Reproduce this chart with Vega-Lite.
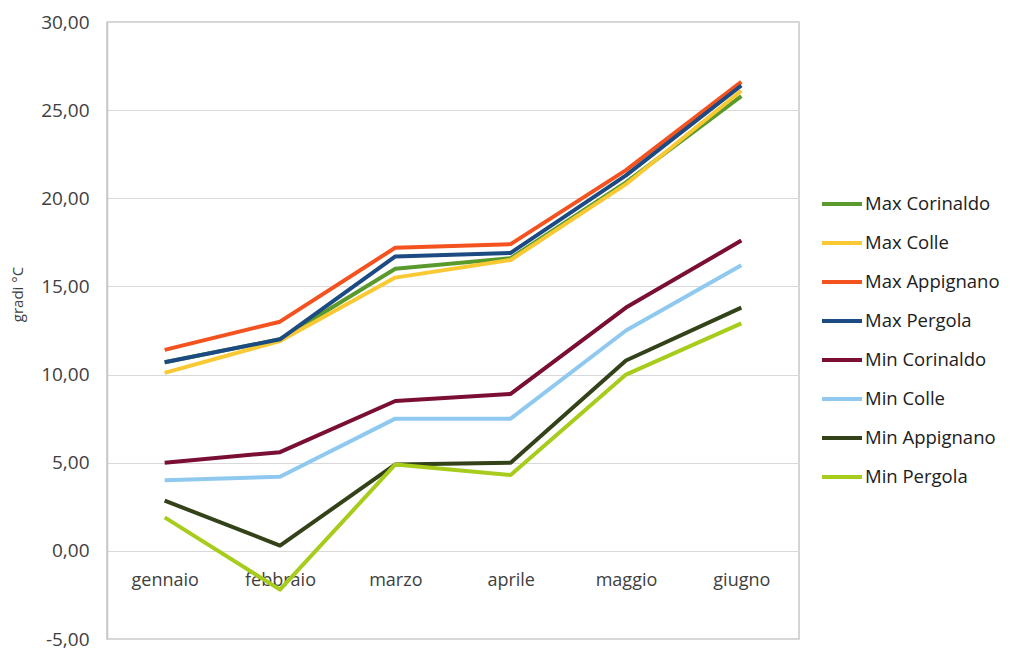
{
  "$schema": "https://vega.github.io/schema/vega-lite/v6.json",
  "width": 692,
  "height": 617,
  "autosize": {"type": "none"},
  "padding": {"left": 107, "top": 22, "right": 211, "bottom": 10},
  "background": "#ffffff",
  "config": {
    "font": "Open Sans",
    "view": {"stroke": "#c8c8c8", "strokeWidth": 1.5}
  },
  "data": {
    "values": [
      {"mese": "gennaio", "serie": "Max Corinaldo", "gradi": 10.7},
      {"mese": "febbraio", "serie": "Max Corinaldo", "gradi": 12.0},
      {"mese": "marzo", "serie": "Max Corinaldo", "gradi": 16.0},
      {"mese": "aprile", "serie": "Max Corinaldo", "gradi": 16.6},
      {"mese": "maggio", "serie": "Max Corinaldo", "gradi": 20.9},
      {"mese": "giugno", "serie": "Max Corinaldo", "gradi": 25.8},
      {"mese": "gennaio", "serie": "Max Colle", "gradi": 10.1},
      {"mese": "febbraio", "serie": "Max Colle", "gradi": 11.9},
      {"mese": "marzo", "serie": "Max Colle", "gradi": 15.5},
      {"mese": "aprile", "serie": "Max Colle", "gradi": 16.5},
      {"mese": "maggio", "serie": "Max Colle", "gradi": 20.8},
      {"mese": "giugno", "serie": "Max Colle", "gradi": 26.1},
      {"mese": "gennaio", "serie": "Max Appignano", "gradi": 11.4},
      {"mese": "febbraio", "serie": "Max Appignano", "gradi": 13.0},
      {"mese": "marzo", "serie": "Max Appignano", "gradi": 17.2},
      {"mese": "aprile", "serie": "Max Appignano", "gradi": 17.4},
      {"mese": "maggio", "serie": "Max Appignano", "gradi": 21.6},
      {"mese": "giugno", "serie": "Max Appignano", "gradi": 26.6},
      {"mese": "gennaio", "serie": "Max Pergola", "gradi": 10.7},
      {"mese": "febbraio", "serie": "Max Pergola", "gradi": 12.0},
      {"mese": "marzo", "serie": "Max Pergola", "gradi": 16.7},
      {"mese": "aprile", "serie": "Max Pergola", "gradi": 16.9},
      {"mese": "maggio", "serie": "Max Pergola", "gradi": 21.3},
      {"mese": "giugno", "serie": "Max Pergola", "gradi": 26.4},
      {"mese": "gennaio", "serie": "Min Corinaldo", "gradi": 5.0},
      {"mese": "febbraio", "serie": "Min Corinaldo", "gradi": 5.6},
      {"mese": "marzo", "serie": "Min Corinaldo", "gradi": 8.5},
      {"mese": "aprile", "serie": "Min Corinaldo", "gradi": 8.9},
      {"mese": "maggio", "serie": "Min Corinaldo", "gradi": 13.8},
      {"mese": "giugno", "serie": "Min Corinaldo", "gradi": 17.6},
      {"mese": "gennaio", "serie": "Min Colle", "gradi": 4.0},
      {"mese": "febbraio", "serie": "Min Colle", "gradi": 4.2},
      {"mese": "marzo", "serie": "Min Colle", "gradi": 7.5},
      {"mese": "aprile", "serie": "Min Colle", "gradi": 7.5},
      {"mese": "maggio", "serie": "Min Colle", "gradi": 12.5},
      {"mese": "giugno", "serie": "Min Colle", "gradi": 16.2},
      {"mese": "gennaio", "serie": "Min Appignano", "gradi": 2.85},
      {"mese": "febbraio", "serie": "Min Appignano", "gradi": 0.3},
      {"mese": "marzo", "serie": "Min Appignano", "gradi": 4.9},
      {"mese": "aprile", "serie": "Min Appignano", "gradi": 5.0},
      {"mese": "maggio", "serie": "Min Appignano", "gradi": 10.8},
      {"mese": "giugno", "serie": "Min Appignano", "gradi": 13.8},
      {"mese": "gennaio", "serie": "Min Pergola", "gradi": 1.9},
      {"mese": "febbraio", "serie": "Min Pergola", "gradi": -2.2},
      {"mese": "marzo", "serie": "Min Pergola", "gradi": 4.9},
      {"mese": "aprile", "serie": "Min Pergola", "gradi": 4.3},
      {"mese": "maggio", "serie": "Min Pergola", "gradi": 10.0},
      {"mese": "giugno", "serie": "Min Pergola", "gradi": 12.9}
    ]
  },
  "mark": {"type": "line", "strokeWidth": 4, "strokeJoin": "round"},
  "encoding": {
    "x": {
      "field": "mese",
      "type": "nominal",
      "sort": ["gennaio", "febbraio", "marzo", "aprile", "maggio", "giugno"],
      "scale": {"type": "point", "padding": 0.5},
      "axis": {
        "title": null,
        "offset": -87,
        "domain": false,
        "ticks": false,
        "grid": false,
        "labelAngle": 0,
        "labelFontSize": 18,
        "labelColor": "#404040",
        "labelPadding": 19
      }
    },
    "y": {
      "field": "gradi",
      "type": "quantitative",
      "scale": {"domain": [-5, 30], "nice": false, "zero": false},
      "axis": {
        "title": "gradi °C",
        "titleFontSize": 15,
        "titleFontWeight": "normal",
        "titleColor": "#404040",
        "titleX": -82,
        "titleY": 272,
        "values": [-5, 0, 5, 10, 15, 20, 25, 30],
        "labelExpr": "replace(replace(format(datum.value, '.2f'), '.', ','), '\u2212', '-')",
        "labelFontSize": 19,
        "labelColor": "#404040",
        "labelPadding": 18,
        "ticks": false,
        "domainColor": "#c8c8c8",
        "domainWidth": 1.5,
        "gridColor": "#d9d9d9",
        "gridWidth": 1.2
      }
    },
    "color": {
      "field": "serie",
      "type": "nominal",
      "scale": {
        "domain": ["Max Corinaldo", "Max Colle", "Max Appignano", "Max Pergola", "Min Corinaldo", "Min Colle", "Min Appignano", "Min Pergola"],
        "range": ["#5a9a2c", "#f9c933", "#f4521f", "#1c4a82", "#7a0e35", "#8fc9f0", "#34421a", "#a8cc1c"]
      },
      "legend": {
        "title": null,
        "orient": "none",
        "legendX": 713,
        "legendY": 160,
        "symbolType": "stroke",
        "symbolStrokeWidth": 4,
        "symbolSize": 1600,
        "labelFontSize": 18.5,
        "labelColor": "#202020",
        "labelOffset": 1,
        "rowPadding": 7
      }
    }
  }
}
